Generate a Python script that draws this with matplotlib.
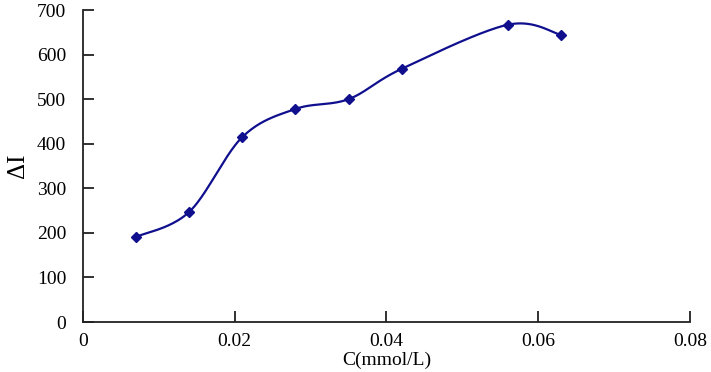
import numpy as np
import matplotlib.pyplot as plt

# concentration (mmol/L) and intensity change
conc = [0.007, 0.014, 0.021, 0.028, 0.035, 0.042, 0.056, 0.063]
delta_i = [191, 247, 415, 478, 500, 568, 667, 644]

x_ticks = [0, 0.02, 0.04, 0.06, 0.08]
x_labels = ["0", "0.02", "0.04", "0.06", "0.08"]
y_ticks = [0, 100, 200, 300, 400, 500, 600, 700]


# Excel-like smoothed line: cubic Bezier segments with 1/6 tangents.
def smooth(xs, ys, n=40):
	p = np.column_stack([xs, ys]).astype(float)
	out = [p[0]]
	t = np.linspace(0, 1, n)[1:, None]
	for i in range(len(p) - 1):
		p0 = p[i - 1] if i > 0 else p[i]
		p1, p2 = p[i], p[i + 1]
		p3 = p[i + 2] if i + 2 < len(p) else p[i + 1]
		c1 = p1 + (p2 - p0) / 6.0
		c2 = p2 - (p3 - p1) / 6.0
		seg = ((1 - t) ** 3) * p1 + 3 * ((1 - t) ** 2) * t * c1 \
			+ 3 * (1 - t) * t ** 2 * c2 + t ** 3 * p2
		out.extend(seg)
	out = np.array(out)
	return out[:, 0], out[:, 1]


plt.rcParams["font.family"] = ["Liberation Serif", "DejaVu Serif"]

fig = plt.figure(figsize=(7.11, 3.72), dpi=100)
ax = fig.add_axes([0.1167, 0.1344, 0.8538, 0.8387])

color = "#10108f"
sx, sy = smooth(conc, delta_i)
ax.plot(sx, sy, color=color, lw=1.6)
ax.plot(conc, delta_i, "D", color=color, ms=5.5, mec=color)

ax.set_xlim(0, 0.08)
ax.set_ylim(0, 700)
ax.set_xticks(x_ticks)
ax.set_xticklabels(x_labels)
ax.set_yticks(y_ticks)

for s in ["top", "right"]:
	ax.spines[s].set_visible(False)
for s in ["left", "bottom"]:
	ax.spines[s].set_linewidth(1.3)
	ax.spines[s].set_color("#222222")

ax.tick_params(axis="both", direction="in", length=8, width=1.3,
			   color="#222222", labelsize=14)
ax.tick_params(axis="x", pad=8)
ax.tick_params(axis="y", pad=12)

ax.set_xlabel("C(mmol/L)", fontsize=14, labelpad=1)
ax.set_ylabel("ΔI", fontsize=18, labelpad=6)

fig.savefig("out.png", dpi=100)
